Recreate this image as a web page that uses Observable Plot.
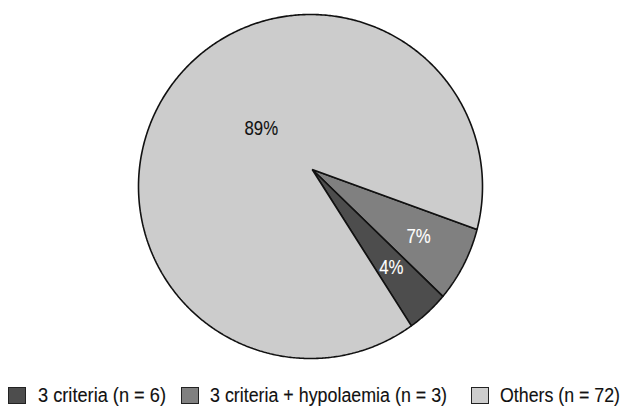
<!DOCTYPE html>
<html>
<head>
<meta charset="utf-8">
<script src="https://cdn.jsdelivr.net/npm/d3@7"></script>
<script src="https://cdn.jsdelivr.net/npm/@observablehq/plot@0.6"></script>
<style>
  html, body { margin: 0; padding: 0; background: #fff; }
  #chart { width: 621px; position: relative; }
  .legend { position: relative; width: 621px; height: 31px; font-family: "Liberation Sans", Arial, sans-serif; font-size: 20px; color: #111; -webkit-text-stroke: 0.12px #111; }
  .legend .sw { position: absolute; top: 11px; width: 18px; height: 17px; box-sizing: border-box; border: 1px solid #222; }
  .legend .lb { position: absolute; top: 8px; line-height: 22px; white-space: nowrap; transform-origin: 0 50%; }
</style>
</head>
<body>
<div id="chart"></div>
<script>
// Patient groups, their printed shares and legend text
const categories = ["3 criteria (n = 6)", "3 criteria + hypolaemia (n = 3)", "Others (n = 72)"];
const shares = [4, 7, 89];
const shareLabels = ["4%", "7%", "89%"];
const fills = ["#4d4d4d", "#808080", "#cccccc"];
const labelColors = ["#ffffff", "#ffffff", "#111111"];
// Clockwise drawing order of the slices, starting below 3 o'clock
const drawOrder = [1, 0, 2];

// Layout
const W = 621, H = 376;
const R = 172, cx = 310, cy = 186;          // circle centre and radius, px
const apex = [0.01, -0.099];                 // meeting point of the slices, in radius units
const startDeg = 14.5;                       // first boundary, degrees clockwise from east
const labelRadius = {small: 0.73, large: 0.38};
const condense = 0.8;                        // horizontal squeeze of the narrow typeface

const rad = d => d * Math.PI / 180;
const total = d3.sum(shares);

// Build each slice as a closed polygon: apex, then points along the arc
const polys = [];
const labels = [];
let a = startDeg;
for (const i of drawOrder) {
  const span = shares[i] / total * 360;
  const a0 = a, a1 = a + span;
  polys.push({key: categories[i], x: apex[0], y: apex[1]});
  const steps = Math.max(2, Math.ceil(span / 0.5));
  for (let s = 0; s <= steps; ++s) {
    const t = rad(a0 + (a1 - a0) * s / steps);
    polys.push({key: categories[i], x: Math.cos(t), y: Math.sin(t)});
  }
  // label direction: halfway between the two edges as seen from the apex
  const e0 = Math.atan2(Math.sin(rad(a0)) - apex[1], Math.cos(rad(a0)) - apex[0]);
  let e1 = Math.atan2(Math.sin(rad(a1)) - apex[1], Math.cos(rad(a1)) - apex[0]);
  while (e1 < e0) e1 += 2 * Math.PI;
  const m = (e0 + e1) / 2;
  const lr = shares[i] > 50 ? labelRadius.large : labelRadius.small;
  labels.push({text: shareLabels[i], x: apex[0] + lr * Math.cos(m), y: apex[1] + lr * Math.sin(m), color: labelColors[i]});
  a = a1;
}

const plot = Plot.plot({
  width: W,
  height: H,
  margin: 0,
  x: {domain: [-cx / R, (W - cx) / R], range: [0, W], axis: null},
  y: {domain: [-cy / R, (H - cy) / R], range: [0, H], axis: null},
  color: {domain: categories, range: fills},
  style: {fontFamily: '"Liberation Sans", Arial, sans-serif', background: "#fff"},
  marks: [
    Plot.line(polys, {x: "x", y: "y", z: "key", fill: "key", stroke: "#111", strokeWidth: 1.6, curve: "linear-closed", strokeLinejoin: "miter"}),
    Plot.text(labels, {x: "x", y: "y", text: "text", fill: d => d.color, stroke: d => d.color, strokeWidth: 0.12, fontSize: 21})
  ]
});

const chart = document.getElementById("chart");
chart.appendChild(plot);

// Narrow the percentage labels to a condensed width
plot.querySelectorAll("text").forEach(t => {
  const w = t.getComputedTextLength();
  t.setAttribute("textLength", (w * condense).toFixed(1));
  t.setAttribute("lengthAdjust", "spacingAndGlyphs");
});

// Legend below the pie
const legendSwatchX = [8, 181, 471];
const legendTextX = [38, 210, 500];
const legendTextW = [128, 237, 120];
const legend = document.createElement("div");
legend.className = "legend";
chart.appendChild(legend);
categories.forEach((c, i) => {
  const sw = document.createElement("div");
  sw.className = "sw";
  sw.style.left = legendSwatchX[i] + "px";
  sw.style.background = fills[i];
  const lb = document.createElement("div");
  lb.className = "lb";
  lb.style.left = legendTextX[i] + "px";
  lb.textContent = c;
  legend.appendChild(sw);
  legend.appendChild(lb);
  const w = lb.getBoundingClientRect().width;
  lb.style.transform = `scaleX(${legendTextW[i] / w})`;
});
</script>
</body>
</html>
